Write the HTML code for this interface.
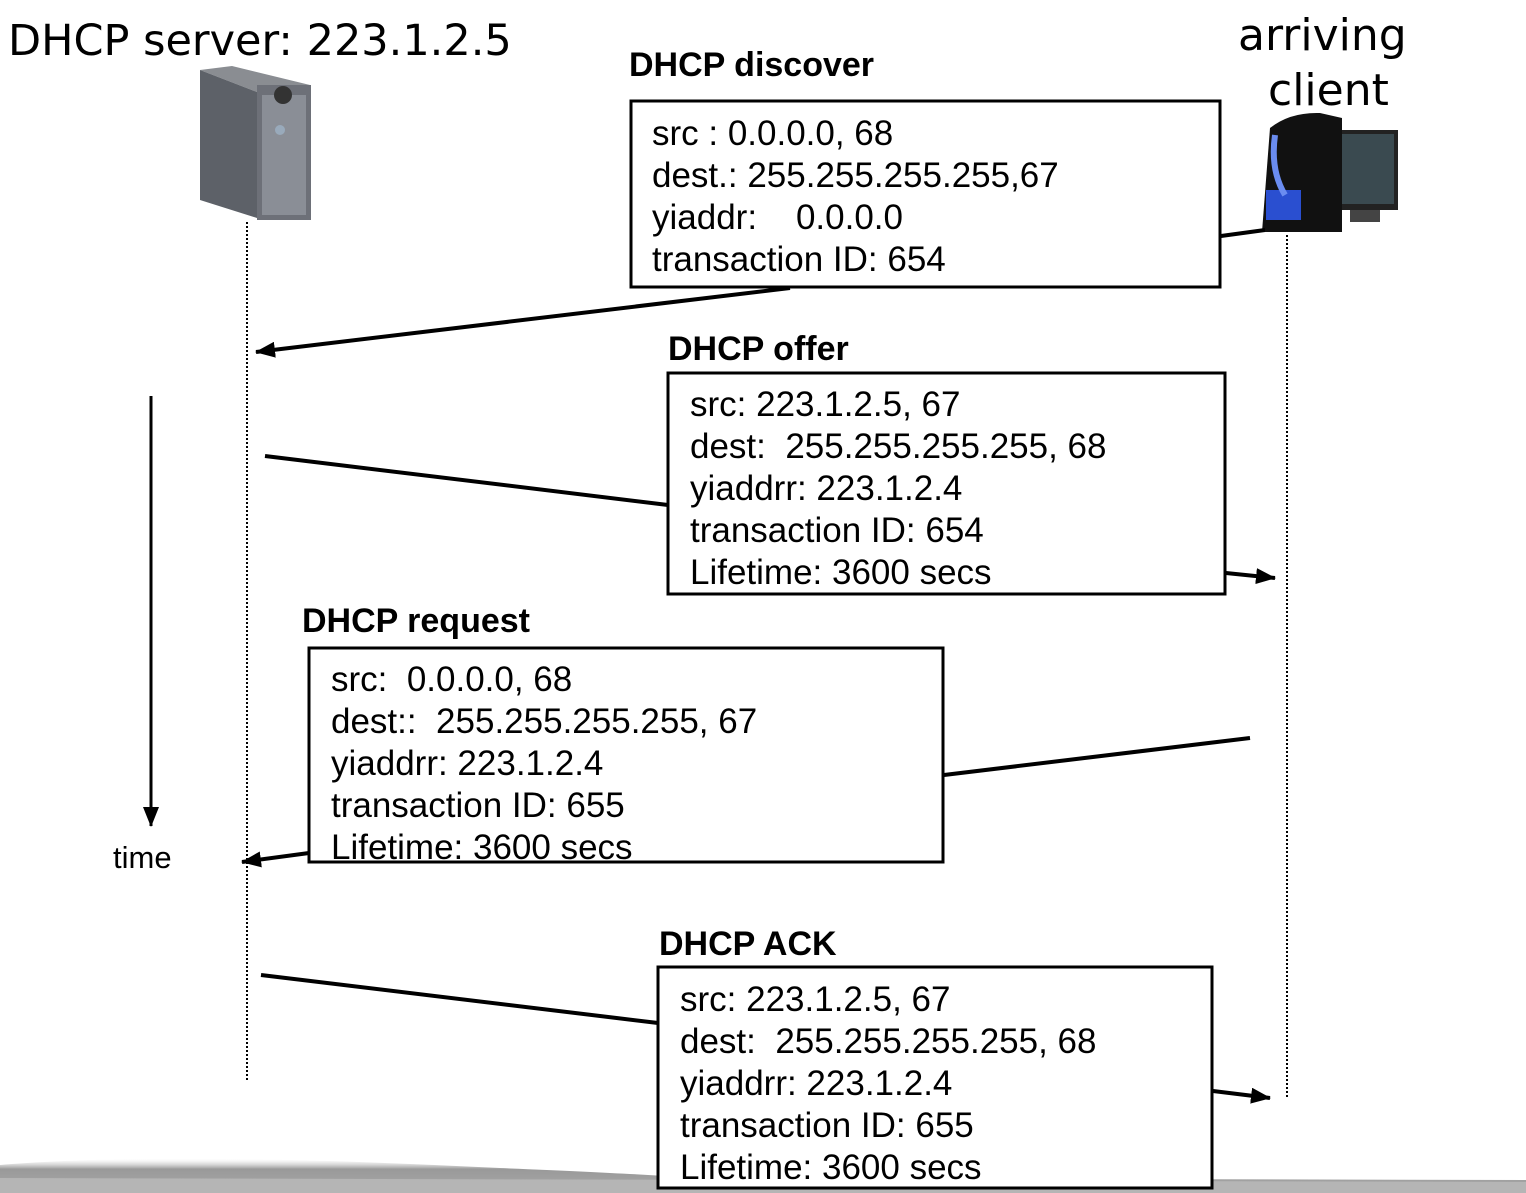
<!DOCTYPE html>
<html><head><meta charset="utf-8"><style>
html,body{margin:0;padding:0;background:#fff;}
svg{display:block;}
.t{font-family:"Liberation Sans",Arial,sans-serif;font-size:35px;fill:#000;}
.h{font-family:"Liberation Sans",Arial,sans-serif;font-size:34px;font-weight:bold;fill:#000;}
.c{font-family:"DejaVu Sans","Liberation Sans",sans-serif;fill:#000;}
</style></head><body>
<svg width="1526" height="1193" viewBox="0 0 1526 1193" xmlns="http://www.w3.org/2000/svg">
<defs>
<marker id="ah2" markerWidth="20" markerHeight="16" refX="19" refY="8" orient="auto" markerUnits="userSpaceOnUse" viewBox="0 0 20 16">
<path d="M0,0 L20,8 L0,16 z" fill="#000"/></marker>
<linearGradient id="g1" x1="0" x2="0" y1="0" y2="1"><stop offset="0" stop-color="#ddd" stop-opacity="0"/><stop offset="0.3" stop-color="#999"/><stop offset="1" stop-color="#aaa"/></linearGradient>
</defs>
<path d="M0,1165 C120,1155 300,1158 500,1168 C600,1172 650,1175 700,1178 L1526,1180 L1526,1193 L0,1193 z" fill="url(#g1)"/>
<path d="M0,1178 L1526,1182 L1526,1193 L0,1193z" fill="#b5b5b5"/>

<text x="8" y="55" class="c" font-size="43">DHCP server: 223.1.2.5</text>
<text x="1238" y="50" class="c" font-size="44">arriving</text>
<text x="1268" y="105" class="c" font-size="44">client</text>

<polygon points="200,70 232,66 310,85 257,92" fill="#8a8d92"/>
<polygon points="200,70 257,92 257,218 200,200" fill="#5d6168"/>
<rect x="257" y="85" width="54" height="135" fill="#6d7078"/>
<rect x="262" y="95" width="44" height="120" fill="#8a8e96"/>
<circle cx="283" cy="95" r="9" fill="#333"/>
<circle cx="280" cy="130" r="5" fill="#9ab"/>

<rect x="1330" y="130" width="68" height="80" fill="#222"/>
<rect x="1334" y="134" width="60" height="70" fill="#3a4a50"/>
<rect x="1350" y="210" width="30" height="12" fill="#444"/>
<path d="M1270,128 Q1290,112 1320,113 L1342,118 L1342,232 L1262,232 Z" fill="#111"/>
<rect x="1266" y="190" width="35" height="30" fill="#2a4fd0"/>
<path d="M1275,135 Q1270,170 1285,195" stroke="#6a8cf0" stroke-width="6" fill="none"/>

<line x1="247" y1="222" x2="247" y2="1080" stroke="#000" stroke-width="2" stroke-dasharray="2,2"/>
<line x1="1287" y1="235" x2="1287" y2="1098" stroke="#000" stroke-width="2" stroke-dasharray="2,2"/>

<line x1="151" y1="396" x2="151" y2="826" stroke="#000" stroke-width="3" marker-end="url(#ah2)"/>
<text x="113" y="868" font-family="Liberation Sans,sans-serif" font-size="31">time</text>

<line x1="1265" y1="230" x2="1221" y2="236" stroke="#000" stroke-width="4"/>
<line x1="790" y1="288" x2="256" y2="352" stroke="#000" stroke-width="4" marker-end="url(#ah2)"/>
<line x1="265" y1="456" x2="668" y2="505" stroke="#000" stroke-width="4"/>
<line x1="1226" y1="573" x2="1275" y2="578" stroke="#000" stroke-width="4" marker-end="url(#ah2)"/>
<line x1="1250" y1="738" x2="944" y2="775" stroke="#000" stroke-width="4"/>
<line x1="309" y1="853" x2="242" y2="862" stroke="#000" stroke-width="4" marker-end="url(#ah2)"/>
<line x1="261" y1="975" x2="658" y2="1023" stroke="#000" stroke-width="4"/>
<line x1="1213" y1="1091" x2="1270" y2="1098" stroke="#000" stroke-width="4" marker-end="url(#ah2)"/>

<text x="629" y="76" class="h">DHCP discover</text>
<rect x="631" y="101" width="589" height="186" fill="#fff" stroke="#000" stroke-width="3"/>
<text class="t" x="652" y="145">src : 0.0.0.0, 68</text>
<text class="t" x="652" y="187">dest.: 255.255.255.255,67</text>
<text class="t" x="652" y="229" xml:space="preserve">yiaddr:    0.0.0.0</text>
<text class="t" x="652" y="271">transaction ID: 654</text>

<text x="668" y="360" class="h">DHCP offer</text>
<rect x="668" y="373" width="557" height="221" fill="#fff" stroke="#000" stroke-width="3"/>
<text class="t" x="690" y="416">src: 223.1.2.5, 67</text>
<text class="t" x="690" y="458" xml:space="preserve">dest:  255.255.255.255, 68</text>
<text class="t" x="690" y="500">yiaddrr: 223.1.2.4</text>
<text class="t" x="690" y="542">transaction ID: 654</text>
<text class="t" x="690" y="584">Lifetime: 3600 secs</text>

<text x="302" y="632" class="h">DHCP request</text>
<rect x="309" y="648" width="634" height="214" fill="#fff" stroke="#000" stroke-width="3"/>
<text class="t" x="331" y="691" xml:space="preserve">src:  0.0.0.0, 68</text>
<text class="t" x="331" y="733" xml:space="preserve">dest::  255.255.255.255, 67</text>
<text class="t" x="331" y="775">yiaddrr: 223.1.2.4</text>
<text class="t" x="331" y="817">transaction ID: 655</text>
<text class="t" x="331" y="859">Lifetime: 3600 secs</text>

<text x="659" y="955" class="h">DHCP ACK</text>
<rect x="658" y="967" width="554" height="221" fill="#fff" stroke="#000" stroke-width="3"/>
<text class="t" x="680" y="1011">src: 223.1.2.5, 67</text>
<text class="t" x="680" y="1053" xml:space="preserve">dest:  255.255.255.255, 68</text>
<text class="t" x="680" y="1095">yiaddrr: 223.1.2.4</text>
<text class="t" x="680" y="1137">transaction ID: 655</text>
<text class="t" x="680" y="1179">Lifetime: 3600 secs</text>
</svg>
</body></html>
